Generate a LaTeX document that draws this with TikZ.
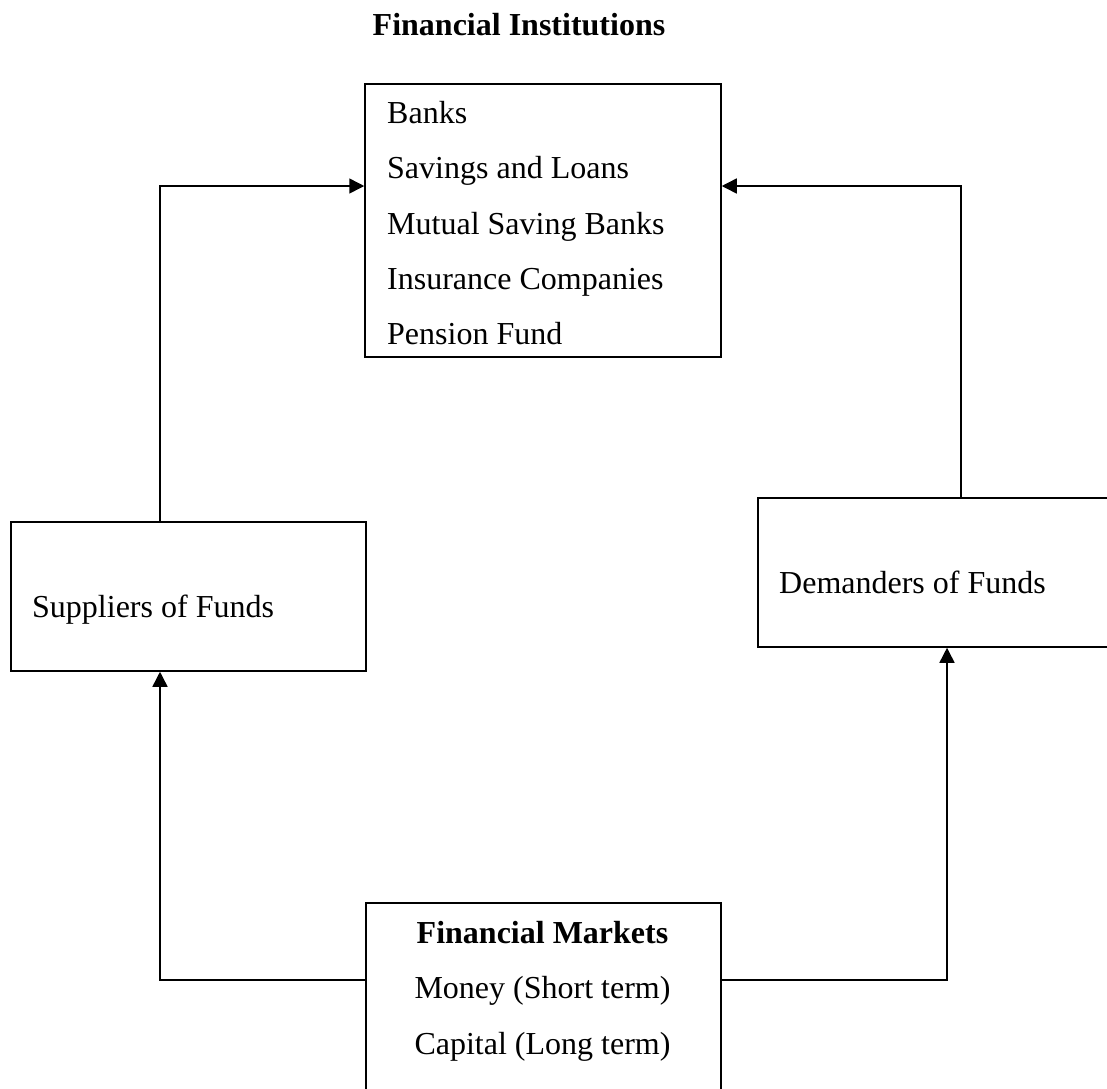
\documentclass[tikz,border=0pt]{standalone}
\usepackage{fontspec}
\setmainfont{Liberation Serif}
\usetikzlibrary{arrows.meta}
\begin{document}
\begin{tikzpicture}[x=1pt,y=-1pt,
  box/.style={draw=black,line width=1.5pt,rectangle,inner sep=0pt},
  lbl/.style={inner sep=0pt,anchor=base west,font=\fontsize{32}{38}\selectfont},
  clbl/.style={inner sep=0pt,anchor=base,font=\fontsize{32}{38}\selectfont},
  conn/.style={line width=1.5pt,-{Triangle[length=15pt,width=15pt]}}]
\useasboundingbox (0,0) rectangle (1107,1088);
\clip (0,0) rectangle (1107,1088);
% boxes
\node[box,minimum width=356pt,minimum height=273pt] (inst) at (543,220.5) {};
\node[box,minimum width=355pt,minimum height=149pt] (sup) at (188.5,596.5) {};
\node[box,minimum width=370pt,minimum height=149pt] (dem) at (943,572.5) {};
\node[box,minimum width=355pt,minimum height=200pt] (mkt) at (543.5,1003) {};
% title
\node[clbl,font=\fontsize{32}{38}\selectfont\bfseries] (title) at (519,35) {Financial Institutions};
% institution list
\node[lbl] (t1) at (387,123) {Banks};
\node[lbl] (t2) at (387,178.5) {Savings and Loans};
\node[lbl] (t3) at (387,234) {Mutual Saving Banks};
\node[lbl] (t4) at (387,289) {Insurance Companies};
\node[lbl] (t5) at (387,344) {Pension Fund};
% side labels
\node[lbl] (s1) at (32,617) {Suppliers of Funds};
\node[lbl] (d1) at (779,593) {Demanders of Funds};
% markets
\node[clbl,font=\fontsize{32}{38}\selectfont\bfseries] (m1) at (542.5,943) {Financial Markets};
\node[clbl] (m2) at (542.5,998) {Money (Short term)};
\node[clbl] (m3) at (542.5,1054) {Capital (Long term)};
% connectors
\coordinate (ls) at (160,186);
\coordinate (rs) at (961,186);
\draw[conn] (sup.north -| ls) |- (inst.west |- ls);
\draw[conn] (dem.north -| rs) |- (inst.east |- rs);
\coordinate (bl) at (160,980);
\coordinate (br) at (947,980);
\draw[conn] (mkt.west |- bl) -| (sup.south -| bl);
\draw[conn] (mkt.east |- br) -| (dem.south -| br);
\end{tikzpicture}
\end{document}
